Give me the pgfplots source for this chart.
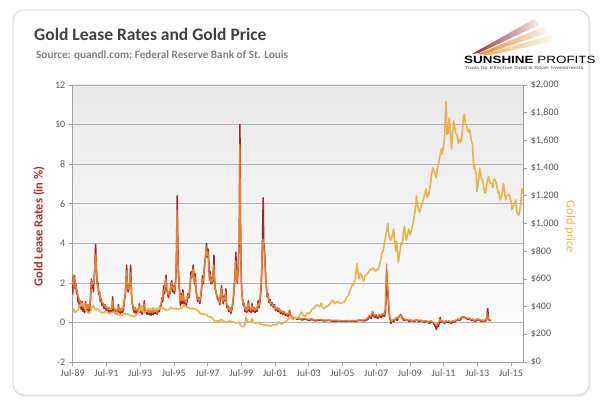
\documentclass[border=0pt]{standalone}
\usepackage{pgfplots}
\pgfplotsset{compat=1.18}
\usepackage{fontspec}
\setmainfont{Carlito}
\newfontfamily\logofont{Liberation Sans}

\definecolor{leasered}{RGB}{158,40,44}
\definecolor{leaseorange}{RGB}{232,128,48}
\definecolor{goldline}{RGB}{228,180,82}
\definecolor{titlegray}{RGB}{64,64,64}
\definecolor{subgray}{RGB}{128,128,128}
\definecolor{tickgray}{RGB}{89,89,89}
\definecolor{gridgray}{RGB}{178,178,178}
\definecolor{axisgray}{RGB}{160,160,160}
\definecolor{labelred}{RGB}{170,45,50}
\definecolor{labelgold}{RGB}{228,182,85}
\definecolor{framegray}{RGB}{214,214,214}

% gold lease rate, first series (year, %)
\pgfplotstableread{
year rate
1989.50 1.40
1989.53 2.30
1989.57 2.05
1989.61 2.35
1989.65 1.70
1989.69 1.95
1989.73 1.45
1989.77 1.60
1989.81 1.05
1989.86 1.20
1989.91 0.75
1989.96 1.10
1990.01 0.65
1990.06 1.05
1990.11 0.55
1990.16 0.80
1990.21 0.50
1990.26 1.05
1990.31 0.60
1990.36 0.55
1990.41 0.90
1990.46 0.50
1990.51 0.65
1990.56 1.30
1990.61 2.20
1990.65 1.75
1990.69 2.05
1990.73 1.55
1990.77 2.30
1990.81 2.70
1990.86 3.95
1990.89 3.10
1990.92 2.50
1990.96 1.90
1991.00 2.00
1991.04 1.40
1991.09 1.55
1991.14 1.05
1991.19 1.20
1991.24 0.85
1991.30 0.95
1991.36 0.70
1991.42 0.90
1991.48 0.60
1991.54 0.75
1991.60 0.50
1991.66 0.70
1991.72 0.50
1991.78 0.65
1991.83 0.55
1991.87 1.30
1991.91 0.55
1991.97 0.70
1992.03 0.45
1992.09 0.60
1992.15 0.40
1992.21 0.90
1992.27 0.55
1992.33 0.45
1992.39 0.70
1992.45 0.50
1992.51 0.65
1992.57 1.15
1992.63 1.45
1992.67 2.20
1992.70 2.90
1992.74 1.85
1992.79 1.55
1992.84 1.75
1992.89 2.10
1992.94 2.90
1992.98 1.55
1993.03 0.95
1993.09 0.70
1993.15 0.50
1993.21 0.75
1993.27 0.45
1993.33 0.65
1993.39 0.50
1993.45 0.95
1993.51 0.50
1993.57 0.60
1993.63 0.40
1993.69 0.65
1993.75 1.10
1993.79 0.50
1993.85 0.65
1993.91 0.40
1993.97 0.60
1994.03 0.40
1994.09 0.55
1994.15 0.35
1994.21 0.60
1994.27 0.40
1994.33 0.65
1994.39 0.45
1994.45 0.60
1994.51 0.40
1994.57 0.65
1994.63 0.55
1994.69 0.80
1994.75 0.85
1994.80 1.25
1994.85 1.05
1994.90 1.85
1994.95 1.45
1995.00 2.05
1995.04 2.40
1995.08 1.65
1995.13 1.45
1995.18 1.25
1995.23 1.55
1995.28 1.45
1995.33 1.95
1995.38 2.10
1995.43 1.55
1995.48 1.85
1995.53 1.45
1995.58 1.75
1995.63 2.50
1995.67 4.00
1995.70 6.40
1995.73 4.40
1995.76 2.90
1995.80 2.10
1995.84 1.55
1995.89 0.85
1995.94 1.45
1995.99 0.95
1996.04 1.65
1996.10 0.95
1996.16 1.15
1996.22 0.85
1996.28 1.05
1996.34 1.45
1996.40 1.25
1996.46 1.85
1996.52 2.55
1996.56 2.25
1996.62 2.70
1996.65 2.90
1996.69 2.30
1996.73 1.95
1996.77 2.45
1996.81 1.65
1996.86 1.35
1996.92 1.05
1996.98 1.25
1997.04 0.95
1997.10 1.35
1997.15 1.75
1997.20 2.35
1997.25 1.95
1997.30 2.65
1997.35 3.10
1997.40 3.50
1997.44 4.00
1997.48 3.30
1997.54 3.70
1997.58 2.90
1997.62 2.15
1997.66 2.55
1997.70 1.95
1997.75 2.25
1997.80 2.00
1997.85 2.60
1997.88 3.40
1997.91 2.30
1997.95 1.70
1998.00 1.55
1998.05 1.35
1998.10 1.15
1998.16 1.25
1998.22 0.90
1998.28 1.45
1998.33 1.85
1998.38 1.15
1998.43 0.95
1998.48 1.35
1998.54 1.10
1998.59 1.70
1998.64 0.75
1998.70 0.85
1998.76 0.55
1998.82 0.75
1998.88 0.45
1998.94 0.65
1999.00 0.95
1999.05 1.45
1999.10 2.00
1999.14 2.60
1999.18 3.55
1999.22 2.30
1999.27 2.00
1999.31 2.60
1999.35 3.50
1999.39 4.40
1999.42 10.00
1999.45 5.20
1999.48 3.20
1999.52 1.70
1999.57 1.20
1999.62 0.85
1999.67 0.95
1999.72 0.55
1999.77 0.75
1999.82 0.50
1999.87 0.65
1999.92 1.10
1999.97 0.55
2000.02 0.70
2000.08 0.50
2000.14 0.95
2000.20 0.55
2000.26 0.75
2000.32 0.50
2000.38 0.70
2000.44 0.55
2000.50 1.10
2000.56 0.75
2000.62 1.20
2000.67 1.60
2000.72 2.80
2000.76 4.20
2000.80 6.30
2000.83 4.00
2000.87 3.80
2000.91 3.10
2000.95 2.30
2000.99 1.80
2001.04 1.30
2001.09 1.45
2001.15 1.00
2001.21 1.15
2001.27 0.85
2001.33 1.00
2001.40 0.75
2001.47 0.90
2001.54 0.60
2001.61 0.75
2001.68 0.55
2001.75 0.70
2001.82 0.45
2001.89 0.60
2001.96 0.40
2002.04 0.55
2002.12 0.35
2002.20 0.45
2002.28 0.30
2002.36 0.60
2002.42 0.35
2002.50 0.25
2002.60 0.20
2002.70 0.25
2002.80 0.15
2002.95 0.20
2003.10 0.12
2003.30 0.18
2003.50 0.10
2003.70 0.15
2003.90 0.08
2004.10 0.12
2004.40 0.08
2004.70 0.10
2005.00 0.05
2005.30 0.08
2005.60 0.05
2005.90 0.08
2006.20 0.05
2006.50 0.10
2006.80 0.08
2007.00 0.15
2007.10 0.30
2007.20 0.20
2007.30 0.45
2007.40 0.25
2007.50 0.30
2007.60 0.20
2007.70 0.35
2007.80 0.25
2007.90 0.40
2008.00 0.30
2008.06 0.60
2008.10 1.80
2008.13 2.50
2008.17 1.60
2008.22 1.20
2008.27 0.50
2008.32 0.20
2008.38 -0.05
2008.45 0.10
2008.55 0.05
2008.65 0.20
2008.75 0.10
2008.85 0.30
2008.95 0.40
2009.05 0.20
2009.15 0.10
2009.30 0.15
2009.45 0.05
2009.60 0.10
2009.75 0.05
2009.90 0.12
2010.05 0.05
2010.20 0.10
2010.35 0.00
2010.50 0.08
2010.65 -0.05
2010.80 0.05
2010.95 -0.10
2011.08 -0.35
2011.14 -0.05
2011.20 -0.20
2011.30 0.25
2011.35 0.00
2011.45 0.05
2011.55 -0.05
2011.65 0.05
2011.75 0.00
2011.85 0.05
2011.95 -0.05
2012.05 0.05
2012.15 0.00
2012.25 0.10
2012.35 0.15
2012.45 0.10
2012.55 0.20
2012.65 0.30
2012.75 0.25
2012.85 0.20
2012.95 0.15
2013.05 0.20
2013.15 0.10
2013.25 0.15
2013.35 0.05
2013.45 0.10
2013.55 0.15
2013.65 0.10
2013.75 0.05
2013.85 0.10
2013.95 0.05
2014.05 0.15
2014.12 0.70
2014.16 0.20
2014.22 0.10
2014.30 0.08
}\leaseA

% gold lease rate, second series (year, %)
\pgfplotstableread{
year rate
1989.52 1.90
1989.55 2.40
1989.59 2.20
1989.63 2.05
1989.67 1.90
1989.71 1.75
1989.75 1.60
1989.79 1.40
1989.84 1.30
1989.89 1.05
1989.94 1.10
1989.99 0.90
1990.04 1.00
1990.09 0.80
1990.14 0.85
1990.19 0.70
1990.24 0.95
1990.29 0.75
1990.34 0.70
1990.39 0.90
1990.44 0.70
1990.49 0.75
1990.54 1.10
1990.59 1.90
1990.63 2.10
1990.67 1.90
1990.71 1.95
1990.75 2.00
1990.79 2.40
1990.84 3.30
1990.87 3.40
1990.90 2.70
1990.94 2.20
1990.98 2.00
1991.02 1.65
1991.07 1.50
1991.12 1.25
1991.17 1.20
1991.22 1.00
1991.28 1.00
1991.34 0.85
1991.40 0.90
1991.46 0.75
1991.52 0.80
1991.58 0.65
1991.64 0.75
1991.70 0.65
1991.76 0.70
1991.81 0.65
1991.86 1.10
1991.89 0.75
1991.95 0.75
1992.01 0.60
1992.07 0.65
1992.13 0.55
1992.19 0.80
1992.25 0.65
1992.31 0.55
1992.37 0.70
1992.43 0.60
1992.49 0.70
1992.55 1.00
1992.61 1.40
1992.65 1.90
1992.69 2.60
1992.72 2.20
1992.77 1.70
1992.82 1.70
1992.87 1.95
1992.92 2.50
1992.96 2.00
1993.01 1.10
1993.07 0.85
1993.13 0.65
1993.19 0.75
1993.25 0.60
1993.31 0.65
1993.37 0.60
1993.43 0.85
1993.49 0.60
1993.55 0.65
1993.61 0.55
1993.67 0.65
1993.73 0.95
1993.77 0.65
1993.83 0.65
1993.89 0.55
1993.95 0.60
1994.01 0.50
1994.07 0.60
1994.13 0.50
1994.19 0.60
1994.25 0.50
1994.31 0.65
1994.37 0.55
1994.43 0.60
1994.49 0.50
1994.55 0.65
1994.61 0.65
1994.67 0.80
1994.73 0.90
1994.78 1.15
1994.83 1.15
1994.88 1.60
1994.93 1.60
1994.98 1.90
1995.02 2.20
1995.06 1.90
1995.11 1.55
1995.16 1.40
1995.21 1.50
1995.26 1.50
1995.31 1.80
1995.36 2.00
1995.41 1.70
1995.46 1.80
1995.51 1.60
1995.56 1.70
1995.61 2.20
1995.65 3.20
1995.68 5.70
1995.71 4.60
1995.74 3.20
1995.78 2.30
1995.82 1.70
1995.87 1.10
1995.92 1.35
1995.97 1.10
1996.02 1.50
1996.08 1.10
1996.14 1.15
1996.20 1.00
1996.26 1.10
1996.32 1.35
1996.38 1.30
1996.44 1.70
1996.50 2.30
1996.54 2.30
1996.60 2.55
1996.64 2.70
1996.67 2.40
1996.71 2.05
1996.75 2.30
1996.79 1.80
1996.84 1.45
1996.90 1.20
1996.96 1.20
1997.02 1.05
1997.08 1.30
1997.13 1.65
1997.18 2.15
1997.23 2.05
1997.28 2.45
1997.33 2.90
1997.38 3.30
1997.42 3.80
1997.46 3.40
1997.52 3.55
1997.56 3.00
1997.60 2.30
1997.64 2.45
1997.68 2.05
1997.73 2.20
1997.78 2.05
1997.83 2.45
1997.87 2.90
1997.90 2.40
1997.93 1.85
1997.98 1.60
1998.03 1.40
1998.08 1.25
1998.14 1.25
1998.20 1.00
1998.26 1.35
1998.31 1.70
1998.36 1.30
1998.41 1.05
1998.46 1.25
1998.52 1.15
1998.57 1.55
1998.62 0.90
1998.68 0.85
1998.74 0.65
1998.80 0.75
1998.86 0.55
1998.92 0.65
1998.98 0.90
1999.03 1.30
1999.08 1.80
1999.12 2.30
1999.16 3.10
1999.20 2.50
1999.25 2.10
1999.29 2.40
1999.33 3.20
1999.37 4.50
1999.41 9.00
1999.44 6.00
1999.47 3.60
1999.50 2.00
1999.55 1.35
1999.60 0.95
1999.65 0.95
1999.70 0.70
1999.75 0.75
1999.80 0.60
1999.85 0.65
1999.90 0.95
1999.95 0.70
2000.00 0.70
2000.06 0.60
2000.12 0.85
2000.18 0.65
2000.24 0.75
2000.30 0.60
2000.36 0.70
2000.42 0.65
2000.48 0.95
2000.54 0.80
2000.60 1.10
2000.65 1.45
2000.70 2.40
2000.74 3.60
2000.78 4.20
2000.82 4.00
2000.85 3.70
2000.89 3.20
2000.93 2.50
2000.97 1.95
2001.02 1.45
2001.07 1.40
2001.13 1.10
2001.19 1.10
2001.25 0.95
2001.31 0.95
2001.38 0.85
2001.45 0.85
2001.52 0.70
2001.59 0.75
2001.66 0.65
2001.73 0.70
2001.80 0.55
2001.87 0.60
2001.94 0.50
2002.02 0.55
2002.10 0.45
2002.18 0.45
2002.26 0.40
2002.34 0.55
2002.40 0.40
2002.48 0.30
2002.58 0.25
2002.68 0.25
2002.78 0.20
2002.93 0.22
2003.08 0.18
2003.28 0.20
2003.48 0.15
2003.68 0.18
2003.88 0.12
2004.08 0.15
2004.38 0.12
2004.68 0.12
2004.98 0.10
2005.28 0.10
2005.58 0.08
2005.88 0.10
2006.18 0.08
2006.48 0.12
2006.78 0.12
2006.98 0.20
2007.08 0.35
2007.18 0.30
2007.28 0.55
2007.38 0.35
2007.48 0.40
2007.58 0.30
2007.68 0.40
2007.78 0.35
2007.88 0.45
2007.98 0.40
2008.04 0.70
2008.08 1.90
2008.12 2.95
2008.15 2.20
2008.19 1.80
2008.24 1.00
2008.29 0.40
2008.35 0.15
2008.42 0.05
2008.50 0.15
2008.60 0.12
2008.70 0.25
2008.80 0.20
2008.90 0.35
2009.00 0.35
2009.10 0.20
2009.25 0.15
2009.40 0.12
2009.55 0.12
2009.70 0.10
2009.85 0.12
2010.00 0.10
2010.15 0.12
2010.30 0.05
2010.45 0.10
2010.60 0.02
2010.75 0.08
2010.90 0.00
2011.02 -0.10
2011.10 -0.15
2011.18 -0.05
2011.28 0.15
2011.33 0.05
2011.43 0.08
2011.53 0.00
2011.63 0.08
2011.73 0.05
2011.83 0.08
2011.93 0.02
2012.03 0.08
2012.13 0.05
2012.23 0.12
2012.33 0.18
2012.43 0.15
2012.53 0.25
2012.63 0.30
2012.73 0.28
2012.83 0.25
2012.93 0.20
2013.03 0.22
2013.13 0.15
2013.23 0.18
2013.33 0.10
2013.43 0.15
2013.53 0.18
2013.63 0.15
2013.73 0.10
2013.83 0.12
2013.93 0.10
2014.03 0.15
2014.10 0.45
2014.14 0.25
2014.20 0.15
2014.30 0.12
}\leaseB

% gold price (year, USD per ounce)
\pgfplotstableread{
year price
1989.50 372
1989.55 385
1989.60 362
1989.65 358
1989.72 368
1989.80 372
1989.86 392
1989.92 410
1989.98 405
1990.04 415
1990.10 418
1990.16 405
1990.22 395
1990.28 372
1990.34 368
1990.40 360
1990.46 352
1990.52 358
1990.58 375
1990.62 400
1990.66 395
1990.72 405
1990.78 390
1990.84 380
1990.90 375
1990.96 385
1991.04 378
1991.10 372
1991.16 362
1991.22 356
1991.30 358
1991.38 357
1991.46 368
1991.54 362
1991.62 352
1991.70 350
1991.78 358
1991.86 358
1991.94 362
1992.02 356
1992.10 355
1992.18 348
1992.26 340
1992.34 338
1992.42 336
1992.50 344
1992.58 352
1992.66 344
1992.74 348
1992.82 342
1992.90 336
1992.98 332
1993.06 330
1993.14 327
1993.22 335
1993.30 342
1993.38 358
1993.46 372
1993.52 385
1993.58 405
1993.62 395
1993.68 362
1993.74 352
1993.80 365
1993.86 372
1993.94 382
1994.02 388
1994.10 382
1994.18 380
1994.26 390
1994.34 378
1994.42 382
1994.50 388
1994.58 382
1994.66 388
1994.74 394
1994.82 390
1994.90 384
1994.98 380
1995.06 376
1995.14 378
1995.22 380
1995.30 392
1995.38 388
1995.46 386
1995.54 386
1995.62 384
1995.70 384
1995.78 382
1995.86 386
1995.94 388
1996.02 398
1996.08 412
1996.12 414
1996.18 402
1996.26 396
1996.34 394
1996.42 390
1996.50 384
1996.58 388
1996.66 386
1996.74 382
1996.82 380
1996.90 372
1996.98 365
1997.06 352
1997.14 345
1997.22 350
1997.30 342
1997.38 344
1997.46 342
1997.54 328
1997.62 324
1997.70 326
1997.78 318
1997.86 305
1997.94 292
1998.00 285
1998.06 298
1998.14 296
1998.22 294
1998.30 308
1998.38 300
1998.46 294
1998.54 292
1998.62 285
1998.70 290
1998.78 296
1998.86 294
1998.94 290
1999.02 288
1999.10 287
1999.18 282
1999.26 283
1999.34 288
1999.42 272
1999.50 260
1999.56 255
1999.62 256
1999.70 264
1999.76 300
1999.79 325
1999.84 300
1999.90 292
1999.96 288
2000.04 285
2000.10 300
2000.14 312
2000.20 290
2000.28 284
2000.36 278
2000.44 286
2000.52 284
2000.60 276
2000.68 272
2000.76 270
2000.84 265
2000.92 270
2001.00 266
2001.08 264
2001.16 262
2001.24 258
2001.32 264
2001.40 270
2001.48 268
2001.56 268
2001.64 275
2001.72 290
2001.80 282
2001.88 275
2001.96 278
2002.04 285
2002.12 295
2002.20 298
2002.28 308
2002.36 320
2002.42 325
2002.50 312
2002.58 305
2002.66 315
2002.74 320
2002.82 318
2002.90 325
2002.98 345
2003.06 360
2003.12 352
2003.20 335
2003.28 326
2003.36 345
2003.44 358
2003.52 348
2003.60 358
2003.68 378
2003.76 385
2003.84 390
2003.92 405
2004.00 415
2004.08 405
2004.16 400
2004.24 425
2004.32 395
2004.40 385
2004.48 395
2004.56 400
2004.64 405
2004.72 415
2004.80 425
2004.88 445
2004.96 440
2005.04 422
2005.12 425
2005.20 438
2005.28 428
2005.36 425
2005.44 425
2005.52 430
2005.60 432
2005.68 448
2005.76 470
2005.84 475
2005.92 505
2006.00 530
2006.08 560
2006.16 555
2006.24 585
2006.30 640
2006.36 710
2006.40 670
2006.44 630
2006.50 600
2006.56 645
2006.62 630
2006.70 600
2006.76 580
2006.82 620
2006.90 625
2006.98 640
2007.06 650
2007.14 670
2007.22 665
2007.30 680
2007.38 670
2007.46 655
2007.54 665
2007.62 670
2007.70 700
2007.78 740
2007.84 790
2007.90 800
2007.96 830
2008.02 880
2008.08 920
2008.14 960
2008.20 1000
2008.24 930
2008.30 900
2008.36 880
2008.42 890
2008.48 930
2008.54 960
2008.60 880
2008.66 800
2008.72 870
2008.78 780
2008.82 720
2008.86 760
2008.92 800
2008.98 860
2009.06 850
2009.12 940
2009.18 980
2009.24 920
2009.30 880
2009.38 930
2009.44 960
2009.52 920
2009.60 950
2009.68 1000
2009.76 1050
2009.84 1120
2009.90 1200
2009.94 1140
2010.00 1110
2010.08 1080
2010.16 1120
2010.24 1150
2010.32 1180
2010.40 1220
2010.46 1250
2010.52 1190
2010.60 1200
2010.68 1250
2010.74 1300
2010.80 1360
2010.86 1400
2010.92 1380
2011.00 1360
2011.06 1330
2011.14 1400
2011.22 1440
2011.30 1500
2011.36 1540
2011.42 1500
2011.50 1560
2011.56 1630
2011.60 1760
2011.64 1880
2011.67 1810
2011.70 1640
2011.74 1720
2011.78 1650
2011.84 1760
2011.88 1700
2011.94 1600
2011.98 1540
2012.04 1650
2012.10 1740
2012.16 1700
2012.22 1650
2012.30 1640
2012.38 1580
2012.44 1610
2012.50 1590
2012.56 1600
2012.62 1680
2012.68 1760
2012.74 1790
2012.80 1720
2012.86 1710
2012.92 1680
2012.98 1660
2013.04 1680
2013.10 1640
2013.16 1590
2013.22 1570
2013.28 1400
2013.32 1430
2013.38 1380
2013.44 1360
2013.48 1230
2013.52 1260
2013.58 1310
2013.64 1400
2013.68 1380
2013.74 1320
2013.80 1320
2013.86 1280
2013.92 1230
2013.98 1220
2014.04 1260
2014.10 1310
2014.16 1340
2014.22 1310
2014.28 1290
2014.36 1290
2014.42 1260
2014.48 1320
2014.54 1320
2014.60 1300
2014.66 1270
2014.72 1220
2014.78 1230
2014.84 1170
2014.90 1190
2014.96 1200
2015.02 1260
2015.06 1290
2015.12 1230
2015.18 1170
2015.24 1200
2015.30 1200
2015.38 1210
2015.46 1180
2015.52 1150
2015.56 1100
2015.62 1120
2015.70 1140
2015.78 1170
2015.84 1090
2015.90 1070
2015.96 1060
2016.02 1090
2016.08 1140
2016.12 1210
2016.16 1250
2016.20 1230
2016.23 1255
}\goldprice

\pgfplotsset{
  common/.style={
    at={(72.7pt,49pt)}, anchor=south west,
    scale only axis, width=450.6pt, height=277pt,
    xmin=1989.5, xmax=2016.23,
    tick align=outside, major tick length=4pt,
    tick style={axisgray, line width=0.6pt},
    axis line style={axisgray, line width=0.7pt},
    tick label style={font=\fontsize{10}{12}\selectfont, text=tickgray},
    /pgf/number format/assume math mode=true,
  },
}

\begin{document}
\begin{tikzpicture}[x=1pt,y=1pt]
\path[use as bounding box] (0,0) rectangle (602,411);
\fill[white] (0,0) rectangle (602,411);
% card with soft shadow
\fill[black!6, rounded corners=11pt] (14,14) rectangle (590.5,400);
\filldraw[fill=white, draw=framegray, line width=0.8pt, rounded corners=11pt] (13,16) rectangle (589,401);

% heading
\node[anchor=base west, inner sep=0, font=\fontsize{17.5}{20}\selectfont\bfseries, text=titlegray] at (34,370.3) {Gold Lease Rates and Gold Price};
\node[anchor=base west, inner sep=0, font=\fontsize{11.2}{13}\selectfont\bfseries, text=subgray] at (36,352.7) {Source: quandl.com; Federal Reserve Bank of St. Louis};

% logo
\shade[left color=leasered, right color=leasered!8] (472,357) -- (534,392) -- (539,386) -- (479,358) -- cycle;
\shade[left color=leaseorange, right color=leaseorange!8] (477,356.5) -- (543,384) -- (547,378) -- (484,356.5) -- cycle;
\shade[left color=goldline, right color=goldline!8] (482,356) -- (551,376) -- (554,370) -- (490,356) -- cycle;
\node[anchor=base west, inner sep=0] at (464,347.5) {\scalebox{1.28}[1]{\logofont\fontsize{10.5}{12}\selectfont\textbf{SUNSHINE} PROFITS}};
\node[anchor=base west, inner sep=0, text=black!70] at (465,341.5) {\scalebox{1.4}[1]{\logofont\fontsize{4.3}{5}\selectfont Tools for Effective Gold \& Silver Investments}};

% lease rates on the left scale
\begin{axis}[common,
  ymin=-2, ymax=12, ytick={-2,0,...,12},
  axis x line*=bottom, axis y line*=left,
  xtick={1989.5,1991.5,...,2015.5},
  xticklabels={Jul-89,Jul-91,Jul-93,Jul-95,Jul-97,Jul-99,Jul-01,Jul-03,Jul-05,Jul-07,Jul-09,Jul-11,Jul-13,Jul-15},
  ymajorgrids, grid style={gridgray, line width=0.6pt},
  axis background/.style={top color=black!9, bottom color=white},
  clip=false,
]
\addplot[leasered, line width=1.5pt, line join=round] table[x=year, y=rate] {\leaseA};
\addplot[leaseorange, line width=1.4pt, line join=round] table[x=year, y=rate] {\leaseB};
\end{axis}

% gold price on the right scale
\begin{axis}[common,
  ymin=0, ymax=2000, ytick={0,200,...,2000},
  axis x line=none, axis y line*=right,
  yticklabel={\$\pgfmathprintnumber[1000 sep={,}]{\tick}},
]
\addplot[goldline, line width=1.6pt, line join=round] table[x=year, y=price] {\goldprice};
\end{axis}

% axis titles
\node[rotate=90, font=\fontsize{12.5}{14}\selectfont\bfseries, text=labelred] at (39,184.5) {Gold Lease Rates (in \%)};
\node[rotate=-90, font=\fontsize{12.5}{14}\selectfont, text=labelgold] at (570,184) {Gold price};
\end{tikzpicture}
\end{document}
